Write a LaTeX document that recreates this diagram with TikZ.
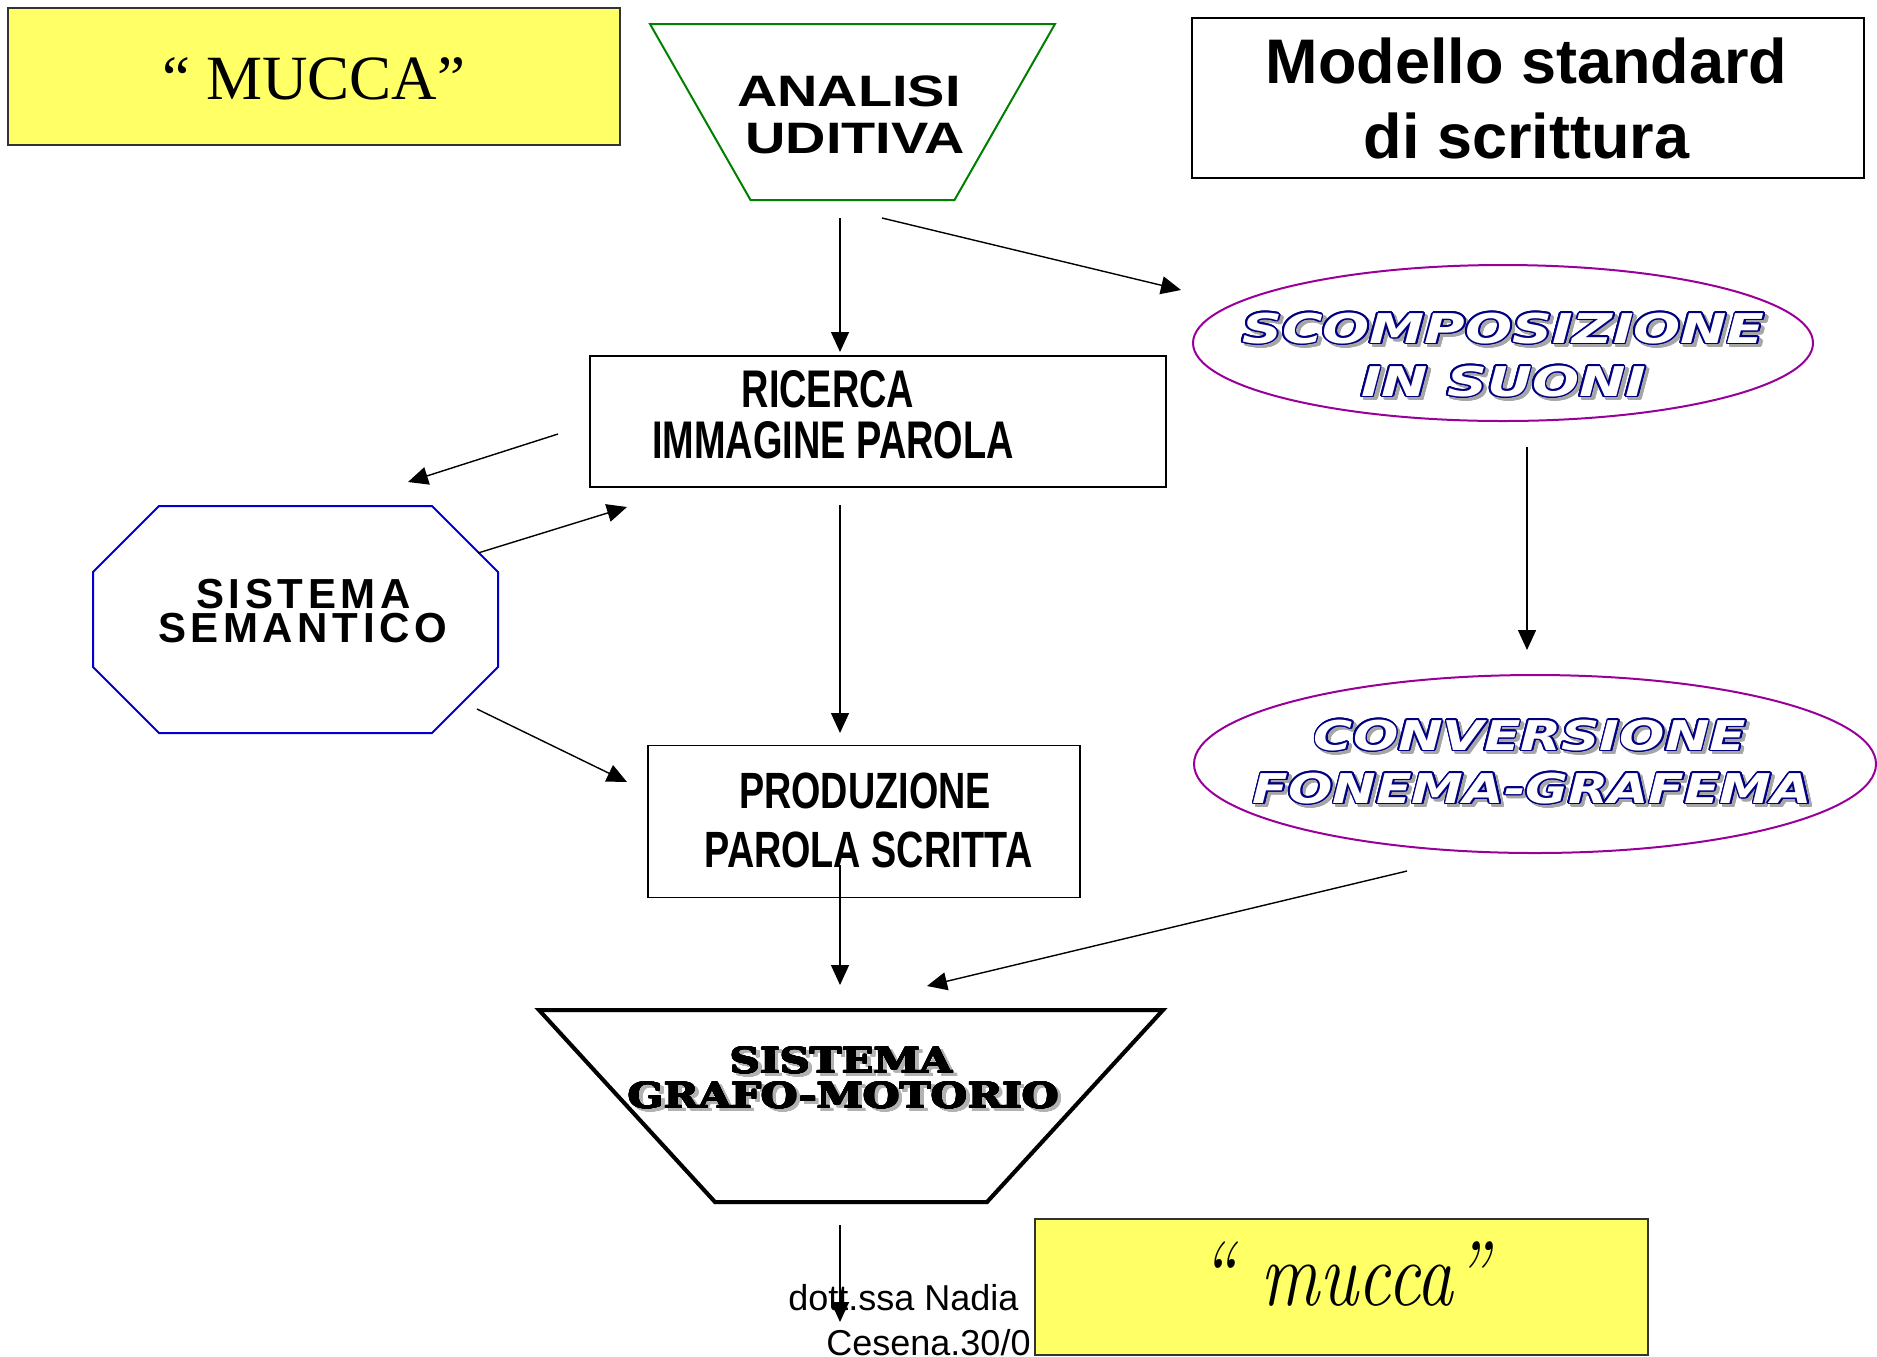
\documentclass[tikz,border=0pt]{standalone}
\usepackage{fontspec}
\usepackage{graphicx}
\usepackage[copies]{contour}
\usetikzlibrary{arrows.meta,shapes.geometric}
\newfontfamily\sansface{Liberation Sans}
\newfontfamily\serifface{Liberation Serif}
\newfontfamily\spacedface[LetterSpace=11]{Liberation Sans}
\newfontfamily\artface{DejaVu Sans Bold Oblique}
\newfontfamily\heavyface{DejaVu Serif Bold}
\definecolor{notey}{RGB}{255,255,102}
\definecolor{ovalline}{RGB}{153,0,153}
\definecolor{octline}{RGB}{0,0,204}
\definecolor{trapline}{RGB}{0,128,0}
\definecolor{artblue}{RGB}{0,0,128}
\contourlength{0.7pt}
% outlined letters with a grey shadow
\newcommand{\artword}[2][1.3]{\scalebox{#1}[1]{%
  \makebox[0pt][l]{\hspace{1.2pt}\raisebox{-1.5pt}{\textcolor{black!35}{\contour{black!35}{#2}}}}%
  \textcolor{white}{\contour{artblue}{#2}}}}
\newcommand{\heavyword}[1]{\scalebox{1.2}[1]{{\contourlength{0.3pt}%
  \makebox[0pt][l]{\hspace{1.5pt}\raisebox{-1.5pt}{\textcolor{black!30}{\contour{black!30}{#1}}}}%
  \contour{black}{#1}}}}
\tikzset{
  notebox/.style={draw=black!80, line width=1pt, fill=notey, inner sep=0pt},
  plainbox/.style={draw=black, line width=0.9pt, inner sep=0pt},
  oval/.style={ellipse, draw=ovalline, line width=1pt, inner sep=0pt},
  frame/.style={inner sep=0pt, outer sep=0pt}
}
\begin{document}
\begin{tikzpicture}[x=0.5pt,y=-0.5pt]
  \useasboundingbox (0,0) rectangle (1877,1356);
  % shapes
  \node[notebox, minimum width=306pt, minimum height=68.5pt] (mucbig) at (314,76.5) {};
  \node[frame, minimum width=202.5pt, minimum height=88pt] (ana) at (852.5,112) {};
  \draw[trapline, line width=1pt] (ana.north west) -- (ana.north east)
    -- ([xshift=-50.25pt]ana.south east) -- ([xshift=50.25pt]ana.south west) -- cycle;
  \node[plainbox, minimum width=336pt, minimum height=80pt] (model) at (1528,98) {};
  \node[plainbox, minimum width=288pt, minimum height=65.5pt] (ric) at (878,421.5) {};
  \node[oval, minimum width=310pt, minimum height=78pt] (scomp) at (1503,343) {};
  \node[frame, minimum width=202.5pt, minimum height=113.5pt] (sem) at (295.5,619.5) {};
  \draw[octline, line width=1pt] ([xshift=33pt]sem.north west) -- ([xshift=-33pt]sem.north east)
    -- ([yshift=-33pt]sem.north east) -- ([yshift=33pt]sem.south east)
    -- ([xshift=-33pt]sem.south east) -- ([xshift=33pt]sem.south west)
    -- ([yshift=33pt]sem.south west) -- ([yshift=-33pt]sem.north west) -- cycle;
  \node[plainbox, minimum width=216pt, minimum height=76pt] (prod) at (864,821.5) {};
  \node[oval, minimum width=341pt, minimum height=89pt] (conv) at (1535,764) {};
  \node[frame, minimum width=312pt, minimum height=96pt] (grafo) at (851,1106) {};
  \draw[black!30, line width=2pt, shift={(3,3)}] (grafo.north west) -- (grafo.north east)
    -- ([xshift=-88pt]grafo.south east) -- ([xshift=88pt]grafo.south west) -- cycle;
  \draw[black, line width=2pt] (grafo.north west) -- (grafo.north east)
    -- ([xshift=-88pt]grafo.south east) -- ([xshift=88pt]grafo.south west) -- cycle;

  % texts
  \begin{scope}[every node/.style={anchor=base, inner sep=0pt}]
  \node[font=\serifface\fontsize{31.5}{36}\selectfont] (mucbig-t) at (314,99) {“ MUCCA”};
  \node[font=\sansface\bfseries\fontsize{22}{26}\selectfont] (ana-t1) at (849,106) {\scalebox{1.27}[1]{ANALISI}};
  \node[font=\sansface\bfseries\fontsize{22}{26}\selectfont] (ana-t2) at (855,153) {\scalebox{1.27}[1]{UDITIVA}};
  \node[font=\sansface\bfseries\fontsize{31.5}{36}\selectfont] (model-t1) at (1526.5,83) {Modello standard};
  \node[font=\sansface\bfseries\fontsize{31.5}{36}\selectfont] (model-t2) at (1526.5,158) {di scrittura};
  \node[font=\sansface\bfseries\fontsize{26.5}{30}\selectfont] (ric-t1) at (828,407) {\scalebox{0.715}[1]{RICERCA}};
  \node[font=\sansface\bfseries\fontsize{26.5}{30}\selectfont] (ric-t2) at (833,458) {\scalebox{0.715}[1]{IMMAGINE PAROLA}};
  \node[font=\spacedface\bfseries\fontsize{21}{24}\selectfont] (sem-t1) at (303.5,608) {SISTEMA};
  \node[font=\spacedface\bfseries\fontsize{21}{24}\selectfont] (sem-t2) at (302.5,642) {SEMANTICO};
  \node[font=\artface\fontsize{20.5}{24}\selectfont] (scomp-t1) at (1503.5,343) {\artword[1.35]{SCOMPOSIZIONE}};
  \node[font=\artface\fontsize{20.5}{24}\selectfont] (scomp-t2) at (1503.5,396) {\artword[1.35]{IN SUONI}};
  \node[font=\sansface\bfseries\fontsize{25.5}{30}\selectfont] (prod-t1) at (865,808) {\scalebox{0.74}[1]{PRODUZIONE}};
  \node[font=\sansface\bfseries\fontsize{25.5}{30}\selectfont] (prod-t2) at (868.5,867) {\scalebox{0.74}[1]{PAROLA SCRITTA}};
  \node[font=\artface\fontsize{20.5}{24}\selectfont] (conv-t1) at (1530,750) {\artword{CONVERSIONE}};
  \node[font=\artface\fontsize{20.5}{24}\selectfont] (conv-t2) at (1532.5,803) {\artword[1.27]{FONEMA-GRAFEMA}};
  \node[font=\heavyface\fontsize{17.5}{20}\selectfont] (grafo-t1) at (841.5,1073) {\heavyword{SISTEMA}};
  \node[font=\heavyface\fontsize{17.5}{20}\selectfont] (grafo-t2) at (843.5,1108) {\heavyword{GRAFO-MOTORIO}};
  \node[font=\sansface\fontsize{18}{20}\selectfont, anchor=base west] (dott-t1) at (788,1310) {dott.ssa Nadia};
  \node[font=\sansface\fontsize{18}{20}\selectfont, anchor=base west] (dott-t2) at (826,1355) {Cesena.30/0};
  \end{scope}

  \node[notebox, minimum width=306.5pt, minimum height=68pt] (mucsmall) at (1341.5,1286.5) {};
  \node[font=\itshape\fontsize{46}{50}\selectfont, anchor=base, inner sep=0pt] (mucsmall-t) at (1344,1305) {\scalebox{0.8}[1]{“ mucca”}};

  % arrow ends
  \coordinate (ana-s) at (840,218);   \coordinate (ric-n) at (840,352);
  \coordinate (ana-e) at (882,218);   \coordinate (scomp-w) at (1181,290);
  \coordinate (ric-w) at (558,434);   \coordinate (sem-n) at (408,482);
  \coordinate (sem-ne) at (478,553);  \coordinate (ric-sw) at (627,507);
  \coordinate (ric-s) at (840,505);   \coordinate (prod-n) at (840,733);
  \coordinate (scomp-s) at (1527,447); \coordinate (conv-n) at (1527,650);
  \coordinate (sem-se) at (477,709);  \coordinate (prod-w) at (627,782);
  \coordinate (prod-s) at (840,865);  \coordinate (grafo-n) at (840,985);
  \coordinate (conv-sw) at (1407,871); \coordinate (grafo-ne) at (927,986);
  \coordinate (grafo-s) at (840,1225); \coordinate (out-s) at (840,1322);

  \begin{scope}[every edge/.style={draw=black, line width=0.7pt, -{Triangle[length=10pt,width=9pt]}}]
  \path (ana-s) edge (ric-n);
  \path (ana-e) edge (scomp-w);
  \path (ric-w) edge (sem-n);
  \path (sem-ne) edge (ric-sw);
  \path (ric-s) edge (prod-n);
  \path (scomp-s) edge (conv-n);
  \path (sem-se) edge (prod-w);
  \path (prod-s) edge (grafo-n);
  \path (conv-sw) edge (grafo-ne);
  \path (grafo-s) edge (out-s);
  \end{scope}
\end{tikzpicture}
\end{document}
